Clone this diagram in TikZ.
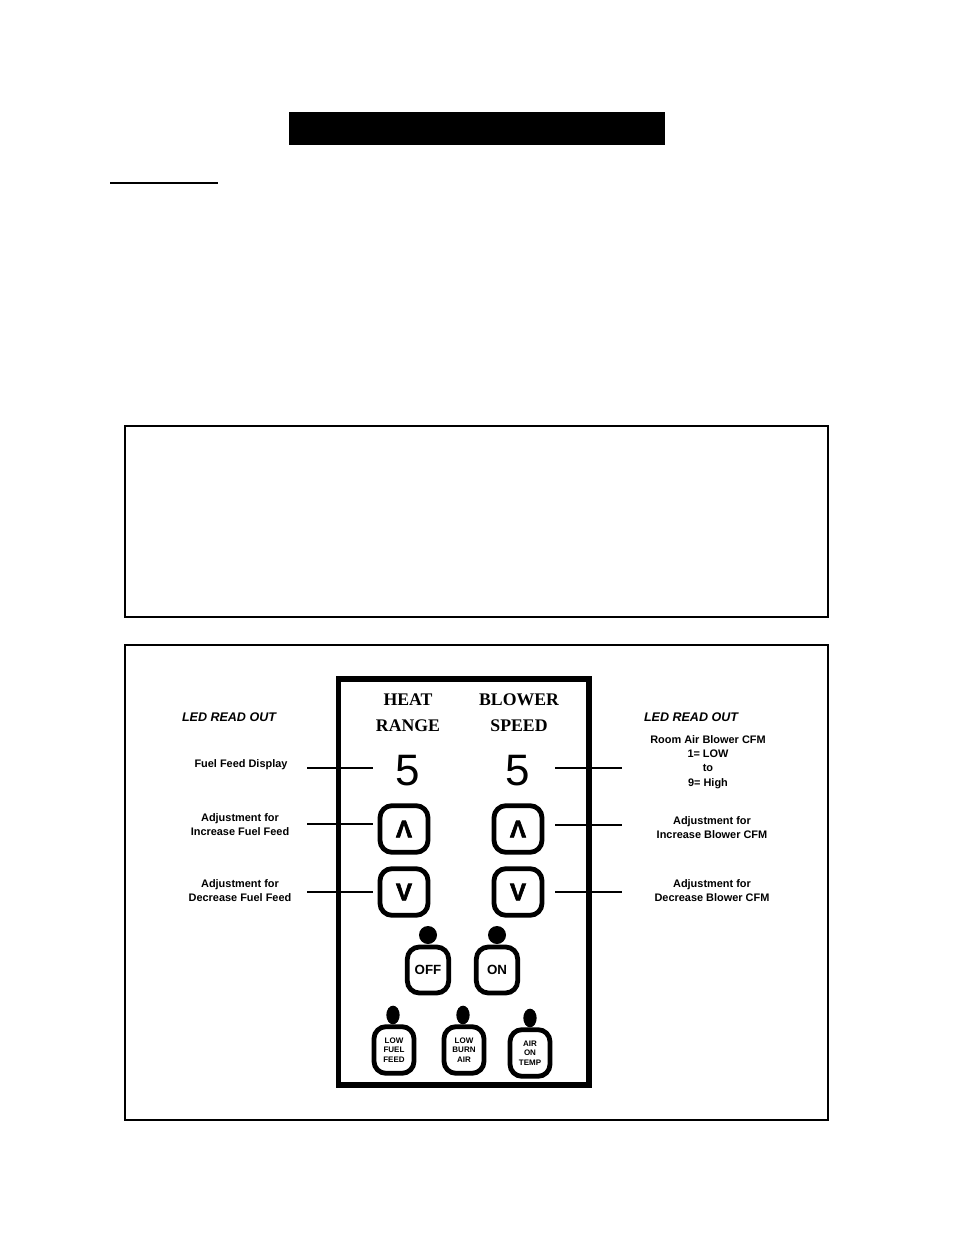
\documentclass[tikz,border=0pt]{standalone}
\usepackage{fontspec}
\usepackage{graphicx}
\setmainfont{Liberation Sans}
\newfontfamily\titlefont{Liberation Serif}
\newfontfamily\keyfont[BoldFeatures={FakeBold=2.5}]{Liberation Sans}
\usetikzlibrary{shapes.geometric}
\begin{document}
\begin{tikzpicture}[x=0.75pt,y=-0.75pt,
  frame/.style={draw=black,line width=1.1pt},
  lbl/.style={font=\bfseries\fontsize{8.2}{10.6}\selectfont, align=center, inner sep=0pt},
  hdr/.style={font=\bfseries\itshape\fontsize{9.4}{11}\selectfont, inner sep=0pt},
  ttl/.style={font=\titlefont\bfseries\fontsize{13.3}{19.5}\selectfont, align=center, inner sep=0pt},
  digit/.style={font=\fontsize{33}{33}\selectfont, inner sep=0pt},
  keybig/.style={draw, line width=3.6pt, rounded corners=9pt, minimum width=36pt, minimum height=35pt, inner sep=0pt, font=\keyfont\bfseries\fontsize{18}{18}\selectfont},
  keymid/.style={draw, line width=3.6pt, rounded corners=9pt, minimum width=31pt, minimum height=34.5pt, inner sep=0pt, font=\bfseries\fontsize{10}{10}\selectfont},
  keysmall/.style={draw, line width=3.6pt, rounded corners=9pt, minimum width=30pt, minimum height=35pt, inner sep=0pt, align=center, font=\bfseries\fontsize{6}{7}\selectfont},
  leader/.style={line width=1.1pt},
  led/.style={fill=black, circle, inner sep=0pt, minimum size=13.5pt},
  ledsmall/.style={fill=black, ellipse, inner sep=0pt, minimum width=10pt, minimum height=14pt}
]
\useasboundingbox (0,0) rectangle (954,1235);
\fill[white] (0,0) rectangle (954,1235);

% title bar and underline
\fill[black] (289,112) rectangle (665,145);
\draw[line width=1.5pt] (110,183) -- (218,183);

% boxes
\draw[frame] (125,426) rectangle (828,617);
\draw[frame] (125,645) rectangle (828,1120);

% panel
\draw[line width=3.8pt] (338.5,679) rectangle (589,1085);

% panel titles
\node[ttl] (heat) at (408,713) {HEAT\\RANGE};
\node[ttl] (blower) at (519,713) {BLOWER\\SPEED};

% digits
\node[digit] (d1) at (408,771) {5};
\node[digit] (d2) at (518,771) {5};

% up/down keys
\node[keybig] (upL) at (404,829) {\rotatebox{180}{V}};
\node[keybig] (upR) at (518,829) {\rotatebox{180}{V}};
\node[keybig] (dnL) at (404,892) {V};
\node[keybig] (dnR) at (518,892) {V};

% off/on
\node[led] (ledoff) at (428,935) {};
\node[led] (ledon) at (497,935) {};
\node[keymid] (off) at (428,970) {OFF};
\node[keymid] (on) at (497,970) {ON};

% bottom indicators
\node[ledsmall] (led1) at (393,1015) {};
\node[ledsmall] (led2) at (463,1015) {};
\node[ledsmall] (led3) at (530,1018) {};
\node[keysmall] (lff) at (394,1050) {LOW\\FUEL\\FEED};
\node[keysmall] (lba) at (464,1050) {LOW\\BURN\\AIR};
\node[keysmall] (aot) at (530,1053) {AIR\\ON\\TEMP};

% left labels
\node[hdr] (ledL) at (229,717) {LED READ OUT};
\node[lbl] (ffd) at (241,765) {Fuel Feed Display};
\node[lbl] (incF) at (240,825) {Adjustment for\\Increase Fuel Feed};
\node[lbl] (decF) at (240,891) {Adjustment for\\Decrease Fuel Feed};

% right labels
\node[hdr] (ledR) at (691,717) {LED READ OUT};
\node[lbl] (room) at (708,762) {Room Air Blower CFM\\1= LOW\\to\\9= High};
\node[lbl] (incB) at (712,828) {Adjustment for\\Increase Blower CFM};
\node[lbl] (decB) at (712,891) {Adjustment for\\Decrease Blower CFM};

% leader lines
\coordinate (a1) at (307,768); \coordinate (b1) at (373,768);
\coordinate (a2) at (307,824); \coordinate (b2) at (373,824);
\coordinate (a3) at (307,892); \coordinate (b3) at (373,892);
\coordinate (c1) at (555,768); \coordinate (e1) at (622,768);
\coordinate (c2) at (555,825); \coordinate (e2) at (622,825);
\coordinate (c3) at (555,892); \coordinate (e3) at (622,892);
\draw[leader] (a1) -- (b1);
\draw[leader] (a2) -- (b2);
\draw[leader] (a3) -- (b3);
\draw[leader] (c1) -- (e1);
\draw[leader] (c2) -- (e2);
\draw[leader] (c3) -- (e3);
\end{tikzpicture}
\end{document}
